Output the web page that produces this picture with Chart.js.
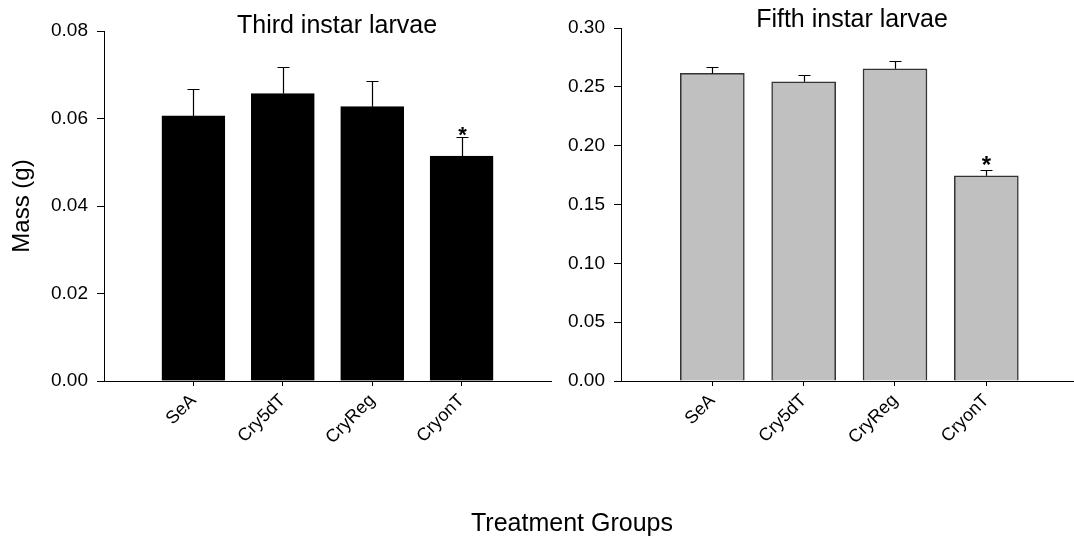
<!DOCTYPE html>
<html>
<head>
<meta charset="utf-8">
<script src="https://cdn.jsdelivr.net/npm/chart.js@4.4.1/dist/chart.umd.min.js"></script>
<style>
  html, body { margin: 0; padding: 0; background: #fff; }
  #wrap { position: relative; width: 1074px; height: 546px; overflow: hidden; font-family: "Liberation Sans", Arial, sans-serif; color: #000; }
  canvas { position: absolute; top: 0; }
  .lbl { position: absolute; font-size: 25px; line-height: 25px; white-space: nowrap; transform: translateX(-50%); }
</style>
</head>
<body>
<div id="wrap">
  <canvas id="thirdChart" width="560" height="546" style="left:0"></canvas>
  <canvas id="fifthChart" width="514" height="546" style="left:560px"></canvas>
  <div class="lbl" id="thirdTitle" style="left:337px; top:12px;"></div>
  <div class="lbl" id="fifthTitle" style="left:852px; top:6px;"></div>
  <div class="lbl" id="xTitle" style="left:572px; top:510px;"></div>
</div>
<script>
// Data
var groups = ['SeA', 'Cry5dT', 'CryReg', 'CryonT'];
var thirdMass = [0.0606, 0.0657, 0.0627, 0.0514];
var thirdErr = [0.0062, 0.0061, 0.0059, 0.0043];
var fifthMass = [0.2614, 0.2543, 0.2653, 0.1744];
var fifthErr = [0.0055, 0.0059, 0.0063, 0.0051];
var significant = [false, false, false, true];
var thirdTicks = [0, 0.02, 0.04, 0.06, 0.08];
var fifthTicks = [0, 0.05, 0.10, 0.15, 0.20, 0.25, 0.30];

document.getElementById('thirdTitle').textContent = 'Third instar larvae';
document.getElementById('fifthTitle').textContent = 'Fifth instar larvae';
document.getElementById('xTitle').textContent = 'Treatment Groups';

var FONT = '"Liberation Sans", Arial, sans-serif';
Chart.defaults.font.family = FONT;
Chart.defaults.color = '#000';

// upper error bars + significance stars
var errorBars = {
    id: 'errorBars',
    afterDatasetsDraw: function (chart, args, opts) {
        var ctx = chart.ctx;
        var x = chart.scales.x, y = chart.scales.y;
        ctx.save();
        ctx.strokeStyle = '#000';
        ctx.lineWidth = 1.2;
        opts.values.forEach(function (v, i) {
            var px = Math.round(x.getPixelForValue(i + 1)) + 0.5;
            var base = y.getPixelForValue(v);
            var top = Math.round(y.getPixelForValue(v + opts.errors[i])) + 0.5;
            ctx.beginPath();
            ctx.moveTo(px, base);
            ctx.lineTo(px, top);
            ctx.moveTo(px - 6, top);
            ctx.lineTo(px + 6, top);
            ctx.stroke();
            if (significant[i]) {
                ctx.fillStyle = '#000';
                ctx.font = 'bold ' + opts.starSize + 'px ' + FONT;
                ctx.textAlign = 'center';
                ctx.textBaseline = 'alphabetic';
                ctx.fillText('*', px, top + opts.starOffset);
            }
        });
        ctx.restore();
    }
};

function makeChart(id, values, errors, yTicks, opt) {
    return new Chart(document.getElementById(id), {
        type: 'bar',
        data: {
            datasets: [{
                data: values.map(function (v, i) { return { x: i + 1, y: v }; }),
                backgroundColor: opt.fill,
                borderColor: opt.border,
                borderWidth: opt.borderWidth,
                barThickness: opt.barWidth
            }]
        },
        options: {
            responsive: false,
            devicePixelRatio: 1,
            animation: false,
            layout: { padding: { left: 0, right: opt.padRight, top: opt.top, bottom: 0 } },
            plugins: {
                legend: { display: false },
                tooltip: { enabled: false },
                errorBars: { values: values, errors: errors, starSize: opt.starSize, starOffset: opt.starOffset }
            },
            scales: {
                x: {
                    type: 'linear',
                    offset: false,
                    min: 0,
                    max: opt.xMax,
                    afterBuildTicks: function (scale) {
                        scale.ticks = groups.map(function (g, i) { return { value: i + 1 }; });
                    },
                    afterFit: function (scale) { scale.height = 165; },
                    ticks: {
                        autoSkip: false,
                        minRotation: 45,
                        maxRotation: 45,
                        padding: 4,
                        font: { size: 18 },
                        callback: function (v) { return groups[v - 1]; }
                    },
                    grid: { display: true, offset: false, drawOnChartArea: false, tickLength: 5, color: '#000', tickWidth: 1 },
                    border: { display: true, color: '#000', width: 1 }
                },
                y: {
                    min: 0,
                    max: yTicks[yTicks.length - 1],
                    afterBuildTicks: function (scale) {
                        scale.ticks = yTicks.map(function (t) { return { value: t }; });
                    },
                    afterFit: function (scale) { scale.width = opt.yWidth; },
                    ticks: {
                        padding: 9,
                        font: { size: 19 },
                        callback: function (v) { return v.toFixed(2); }
                    },
                    grid: { display: true, drawOnChartArea: false, tickLength: 7, color: '#000', tickWidth: 1 },
                    border: { display: true, color: '#000', width: 1 },
                    title: {
                        display: opt.yTitle !== '',
                        text: opt.yTitle,
                        font: { size: 24 },
                        padding: { top: 8, bottom: 0 }
                    }
                }
            }
        },
        plugins: [errorBars]
    });
}

makeChart('thirdChart', thirdMass, thirdErr, thirdTicks, {
    fill: '#000', border: '#000', borderWidth: 1, barWidth: 63,
    xMax: 5, padRight: 9, top: 31, yWidth: 104, yTitle: 'Mass (g)',
    starSize: 22, starOffset: 4
});

makeChart('fifthChart', fifthMass, fifthErr, fifthTicks, {
    fill: '#c0c0c0', border: '#333', borderWidth: 1.5, barWidth: 64,
    xMax: 4.96, padRight: 0, top: 28, yWidth: 61, yTitle: '',
    starSize: 24, starOffset: 2
});
</script>
</body>
</html>
